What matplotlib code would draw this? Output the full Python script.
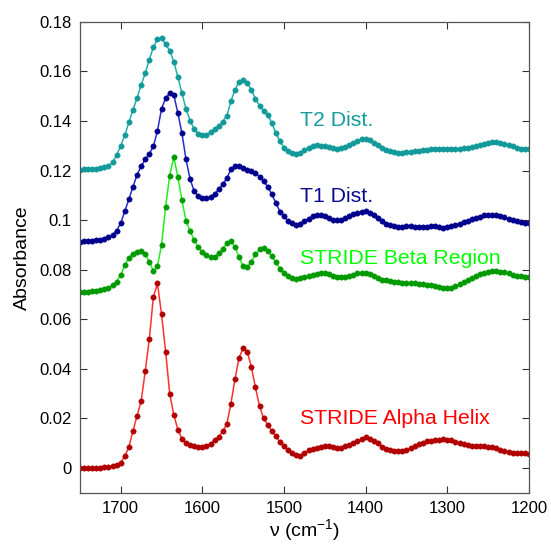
import matplotlib
matplotlib.use("Agg")
import matplotlib.pyplot as plt
from matplotlib.ticker import FixedLocator

plt.rcParams['font.family'] = ['Liberation Sans', 'DejaVu Sans']
plt.rcParams['mathtext.default'] = 'regular'

wavenumber = [1750, 1745, 1740, 1735, 1730, 1725, 1720, 1715, 1710, 1705,
              1700, 1695, 1690, 1685, 1680, 1675, 1670, 1665, 1660, 1655,
              1650, 1645, 1640, 1635, 1630, 1625, 1620, 1615, 1610, 1605,
              1600, 1595, 1590, 1585, 1580, 1575, 1570, 1565, 1560, 1555,
              1550, 1545, 1540, 1535, 1530, 1525, 1520, 1515, 1510, 1505,
              1500, 1495, 1490, 1485, 1480, 1475, 1470, 1465, 1460, 1455,
              1450, 1445, 1440, 1435, 1430, 1425, 1420, 1415, 1410, 1405,
              1400, 1395, 1390, 1385, 1380, 1375, 1370, 1365, 1360, 1355,
              1350, 1345, 1340, 1335, 1330, 1325, 1320, 1315, 1310, 1305,
              1300, 1295, 1290, 1285, 1280, 1275, 1270, 1265, 1260, 1255,
              1250, 1245, 1240, 1235, 1230, 1225, 1220, 1215, 1210, 1205,
              1200]

t2_dist = [0.1204, 0.1205, 0.1205, 0.1206, 0.1208, 0.1210, 0.1213, 0.1220, 0.1233, 0.1262,
           0.1300, 0.1343, 0.1395, 0.1445, 0.1494, 0.1545, 0.1593, 0.1648, 0.1697, 0.1731,
           0.1733, 0.1710, 0.1684, 0.1640, 0.1578, 0.1512, 0.1448, 0.1402, 0.1368, 0.1349,
           0.1344, 0.1345, 0.1354, 0.1367, 0.1380, 0.1398, 0.1422, 0.1480, 0.1527, 0.1558,
           0.1567, 0.1555, 0.1525, 0.1490, 0.1462, 0.1442, 0.1426, 0.1392, 0.1352, 0.1318,
           0.1293, 0.1279, 0.1272, 0.1269, 0.1273, 0.1284, 0.1293, 0.1299, 0.1302, 0.1301,
           0.1298, 0.1295, 0.1292, 0.1289, 0.1290, 0.1297, 0.1305, 0.1313, 0.1321, 0.1328,
           0.1328, 0.1323, 0.1313, 0.1302, 0.1292, 0.1284, 0.1278, 0.1274, 0.1272, 0.1273,
           0.1275, 0.1276, 0.1278, 0.1281, 0.1283, 0.1285, 0.1287, 0.1288, 0.1288, 0.1288,
           0.1288, 0.1288, 0.1288, 0.1289, 0.1291, 0.1293, 0.1296, 0.1300, 0.1304, 0.1309,
           0.1312, 0.1315, 0.1316, 0.1313, 0.1309, 0.1304, 0.1298, 0.1293, 0.1289, 0.1286,
           0.1286]

t1_dist = [0.0913, 0.0915, 0.0917, 0.0918, 0.0919, 0.0920, 0.0924, 0.0931, 0.0940, 0.0958,
           0.0988, 0.1036, 0.1085, 0.1135, 0.1183, 0.1217, 0.1245, 0.1267, 0.1298, 0.1360,
           0.1450, 0.1492, 0.1513, 0.1505, 0.1432, 0.1350, 0.1245, 0.1165, 0.1117, 0.1097,
           0.1090, 0.1088, 0.1094, 0.1106, 0.1124, 0.1145, 0.1170, 0.1205, 0.1217, 0.1219,
           0.1211, 0.1204, 0.1198, 0.1190, 0.1175, 0.1158, 0.1135, 0.1105, 0.1070, 0.1035,
           0.1015, 0.0997, 0.0987, 0.0980, 0.0986, 0.0996, 0.1006, 0.1016, 0.1022, 0.1021,
           0.1015, 0.1009, 0.1002, 0.0999, 0.1000, 0.1008, 0.1016, 0.1023, 0.1030, 0.1035,
           0.1036, 0.1030, 0.1021, 0.1007, 0.0995, 0.0985, 0.0979, 0.0975, 0.0973, 0.0974,
           0.0975, 0.0976, 0.0974, 0.0971, 0.0971, 0.0973, 0.0976, 0.0975, 0.0972, 0.0970,
           0.0971, 0.0976, 0.0981, 0.0986, 0.0991, 0.0997, 0.1003, 0.1009, 0.1014, 0.1019,
           0.1021, 0.1021, 0.1020, 0.1016, 0.1011, 0.1006, 0.1000, 0.0995, 0.0991, 0.0989,
           0.0989]

beta_region = [0.0710, 0.0711, 0.0712, 0.0713, 0.0715, 0.0717, 0.0721, 0.0727, 0.0737, 0.0752,
               0.0780, 0.0818, 0.0848, 0.0865, 0.0873, 0.0874, 0.0863, 0.0833, 0.0795, 0.0815,
               0.0900, 0.1055, 0.1180, 0.1255, 0.1175, 0.1080, 0.0998, 0.0955, 0.0920, 0.0890,
               0.0870, 0.0859, 0.0853, 0.0853, 0.0866, 0.0885, 0.0907, 0.0914, 0.0892, 0.0850,
               0.0815, 0.0812, 0.0832, 0.0862, 0.0882, 0.0886, 0.0876, 0.0855, 0.0830, 0.0805,
               0.0788, 0.0775, 0.0768, 0.0764, 0.0766, 0.0771, 0.0776, 0.0780, 0.0783, 0.0785,
               0.0785, 0.0781, 0.0776, 0.0771, 0.0769, 0.0772, 0.0776, 0.0780, 0.0785, 0.0788,
               0.0787, 0.0783, 0.0775, 0.0766, 0.0760, 0.0757, 0.0754, 0.0751, 0.0750, 0.0748,
               0.0747, 0.0746, 0.0745, 0.0744, 0.0742, 0.0740, 0.0737, 0.0734, 0.0731, 0.0728,
               0.0726, 0.0727, 0.0733, 0.0741, 0.0750, 0.0758, 0.0767, 0.0775, 0.0781, 0.0787,
               0.0791, 0.0793, 0.0793, 0.0792, 0.0789, 0.0785, 0.0780, 0.0775, 0.0773, 0.0772,
               0.0772]

alpha_helix = [0.0000, 0.0000, 0.0000, 0.0000, 0.0001, 0.0002, 0.0003, 0.0005, 0.0008, 0.0012,
               0.0022, 0.0048, 0.0085, 0.0150, 0.0210, 0.0270, 0.0390, 0.0520, 0.0690, 0.0745,
               0.0620, 0.0470, 0.0300, 0.0215, 0.0155, 0.0118, 0.0103, 0.0094, 0.0087, 0.0084,
               0.0084, 0.0089, 0.0099, 0.0112, 0.0127, 0.0148, 0.0178, 0.0260, 0.0360, 0.0445,
               0.0485, 0.0470, 0.0408, 0.0325, 0.0250, 0.0200, 0.0175, 0.0150, 0.0128, 0.0105,
               0.0088, 0.0073, 0.0062, 0.0052, 0.0050, 0.0059, 0.0071, 0.0077, 0.0081, 0.0086,
               0.0088, 0.0088, 0.0084, 0.0080, 0.0079, 0.0087, 0.0095, 0.0101, 0.0110, 0.0117,
               0.0124, 0.0118, 0.0108, 0.0100, 0.0085, 0.0076, 0.0072, 0.0070, 0.0068, 0.0067,
               0.0072, 0.0080, 0.0089, 0.0096, 0.0102, 0.0108, 0.0111, 0.0113, 0.0115, 0.0116,
               0.0115, 0.0112, 0.0106, 0.0101, 0.0097, 0.0093, 0.0091, 0.0090, 0.0089, 0.0087,
               0.0086, 0.0084, 0.0080, 0.0074, 0.0068, 0.0063, 0.0060, 0.0059, 0.0059, 0.0059,
               0.0057]

series_labels = ["T2 Dist.", "T1 Dist.", "STRIDE Beta Region", "STRIDE Alpha Helix"]
x_ticks = [1700, 1600, 1500, 1400, 1300, 1200]
y_ticks = [0, 0.02, 0.04, 0.06, 0.08, 0.1, 0.12, 0.14, 0.16, 0.18]
y_tick_labels = ["0", "0.02", "0.04", "0.06", "0.08", "0.1", "0.12", "0.14", "0.16", "0.18"]

series = [
    (alpha_helix, '#b00000', '#ff3030', '#ff0000', 0.0198),
    (beta_region, '#009a00', '#22ee22', '#00ff00', 0.0847),
    (t1_dist, '#00008c', '#2a2ad0', '#0a0a90', 0.1097),
    (t2_dist, '#129a9a', '#20b0b0', '#179c9c', 0.1403),
]
labels_in_order = [series_labels[3], series_labels[2], series_labels[1], series_labels[0]]

fig = plt.figure(figsize=(5.51, 5.47), dpi=100)
ax = fig.add_axes([0.145, 0.099, 0.815, 0.861])

for (vals, mcol, lcol, tcol, ty), lab in zip(series, labels_in_order):
    ax.plot(wavenumber, vals, '-', color=lcol, lw=1.1, marker='o',
            markersize=3.9, markerfacecolor=mcol, markeredgecolor=mcol,
            markeredgewidth=0.3)
    ax.text(1481, ty, lab, color=tcol, fontsize=15.3, va='center', ha='left')

ax.set_xlim(1750, 1200)
ax.set_ylim(-0.01, 0.18)
ax.xaxis.set_major_locator(FixedLocator(x_ticks))
ax.set_xticklabels([str(t) for t in x_ticks])
ax.yaxis.set_major_locator(FixedLocator(y_ticks))
ax.set_yticklabels(y_tick_labels)
ax.tick_params(direction='in', top=True, right=True, length=5, width=0.8,
               labelsize=12, color='#333333', pad=6)
for s in ax.spines.values():
    s.set_color('#555555')
    s.set_linewidth(0.9)
ax.set_xlabel('ν (cm$^{-1}$)', fontsize=14, labelpad=1)
ax.set_ylabel('Absorbance', fontsize=14, labelpad=6)

fig.savefig('out.png', dpi=100, facecolor='white')
